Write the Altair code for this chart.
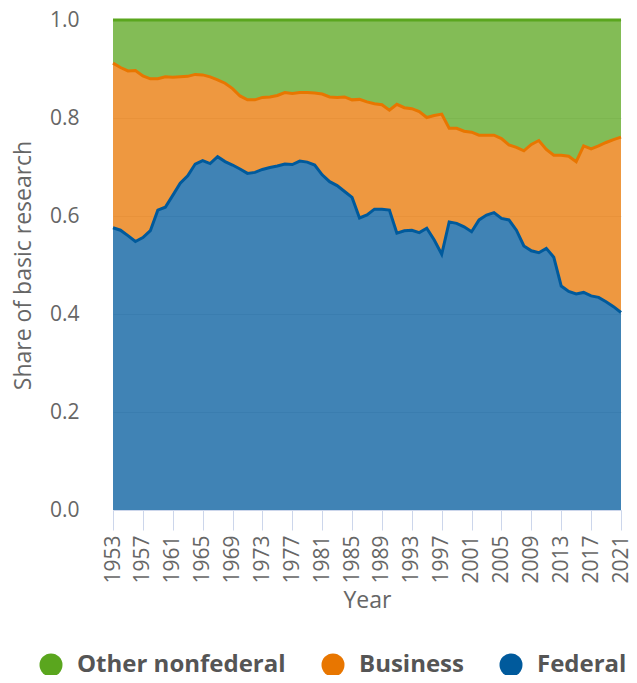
import altair as alt
import pandas as pd

years = list(range(1953, 2022))

federal = [0.576, 0.571, 0.560, 0.548, 0.556, 0.570, 0.612, 0.618, 0.642, 0.667,
           0.682, 0.706, 0.713, 0.707, 0.721, 0.711, 0.704, 0.696, 0.687, 0.689,
           0.695, 0.699, 0.702, 0.706, 0.705, 0.712, 0.710, 0.704, 0.684, 0.670,
           0.662, 0.650, 0.638, 0.596, 0.602, 0.614, 0.614, 0.612, 0.565, 0.570,
           0.571, 0.566, 0.575, 0.551, 0.522, 0.588, 0.585, 0.578, 0.568, 0.592,
           0.602, 0.607, 0.595, 0.592, 0.571, 0.539, 0.529, 0.525, 0.534, 0.516,
           0.457, 0.446, 0.441, 0.444, 0.437, 0.434, 0.425, 0.415, 0.403]

business = [0.336, 0.332, 0.336, 0.349, 0.330, 0.310, 0.268, 0.266, 0.241, 0.217,
            0.203, 0.183, 0.175, 0.177, 0.157, 0.160, 0.156, 0.149, 0.150, 0.148,
            0.147, 0.144, 0.144, 0.146, 0.145, 0.140, 0.142, 0.147, 0.165, 0.173,
            0.180, 0.193, 0.199, 0.242, 0.231, 0.215, 0.213, 0.204, 0.263, 0.251,
            0.248, 0.247, 0.226, 0.254, 0.286, 0.191, 0.194, 0.195, 0.203, 0.173,
            0.163, 0.158, 0.163, 0.153, 0.169, 0.194, 0.217, 0.229, 0.202, 0.208,
            0.267, 0.276, 0.270, 0.299, 0.300, 0.309, 0.325, 0.341, 0.358]

other_nonfederal = [0.088, 0.097, 0.104, 0.103, 0.114, 0.120, 0.120, 0.116, 0.117, 0.116,
                    0.115, 0.111, 0.112, 0.116, 0.122, 0.129, 0.140, 0.155, 0.163, 0.163,
                    0.158, 0.157, 0.154, 0.148, 0.150, 0.148, 0.148, 0.149, 0.151, 0.157,
                    0.158, 0.157, 0.163, 0.162, 0.167, 0.171, 0.173, 0.184, 0.172, 0.179,
                    0.181, 0.187, 0.199, 0.195, 0.192, 0.221, 0.221, 0.227, 0.229, 0.235,
                    0.235, 0.235, 0.242, 0.255, 0.260, 0.267, 0.254, 0.246, 0.264, 0.276,
                    0.276, 0.278, 0.289, 0.257, 0.263, 0.257, 0.250, 0.244, 0.239]

series_names = ["Other nonfederal", "Business", "Federal"]
line_colors = ["#5aa61e", "#e87600", "#005a9c"]
x_ticks = list(range(1953, 2022, 4))
y_ticks = [0.0, 0.2, 0.4, 0.6, 0.8, 1.0]

rows = []
for name, vals, order in [("Federal", federal, 0), ("Business", business, 1),
                          ("Other nonfederal", other_nonfederal, 2)]:
    for y, v in zip(years, vals):
        rows.append({"year": y, "series": name, "share": v, "order": order})
df = pd.DataFrame(rows)

FONT = "Open Sans"

base = alt.Chart(df).transform_stack(
    stack="share", groupby=["year"], as_=["lo", "hi"],
    sort=[alt.SortField("order", order="ascending")]
)

x_enc = alt.X("year:Q",
              scale=alt.Scale(domain=[1953, 2021], nice=False, zero=False),
              axis=alt.Axis(title="Year", values=x_ticks, format="d", labelAngle=-90,
                            labelOverlap=False, labelFlush=False, labelBound=False,
                            grid=False, domainColor="#ccd6eb", tickColor="#ccd6eb",
                            tickSize=20, labelPadding=5, labelFontSize=21,
                            labelColor="#666666", titleFontSize=23, titleColor="#666666",
                            titleFontWeight="normal", titlePadding=6,
                            labelFont=FONT, titleFont=FONT))
y_enc = alt.Y("hi:Q",
              scale=alt.Scale(domain=[0, 1], nice=False),
              axis=alt.Axis(title="Share of basic research", values=y_ticks, format=".1f",
                            domain=False, ticks=False, gridColor="#e6e6e6",
                            labelPadding=34, labelFontSize=21, labelColor="#666666",
                            labelOverlap=False, labelFlush=False,
                            titleFontSize=23, titleColor="#666666",
                            titleFontWeight="normal", titlePadding=14,
                            labelFont=FONT, titleFont=FONT))

color_scale = alt.Scale(domain=series_names, range=line_colors)

area = base.mark_area(opacity=0.75).encode(
    x=x_enc,
    y=y_enc,
    y2="lo:Q",
    fill=alt.Fill("series:N",
                  scale=color_scale,
                  legend=alt.Legend(title=None, orient="none", direction="horizontal",
                                    legendX=-74, legendY=633,
                                    symbolType="circle", symbolSize=529,
                                    symbolOpacity=1, symbolStrokeWidth=0,
                                    labelFontSize=24, labelFontWeight="bold",
                                    labelColor="#555555", labelFont=FONT,
                                    labelLimit=400, labelOffset=14,
                                    columnPadding=35)),
    order=alt.Order("order:Q")
)

line = base.mark_line(strokeWidth=3).encode(
    x=x_enc,
    y=y_enc,
    stroke=alt.Stroke("series:N", scale=color_scale, legend=None),
    detail="series:N"
)

chart = alt.layer(area, line).properties(
    width=508, height=490,
    padding={"left": 105, "top": 12, "right": 8, "bottom": 165},
    autosize="none"
).configure_view(stroke=None)

chart.save("out.html", embed_options={"renderer": "svg", "actions": False})
